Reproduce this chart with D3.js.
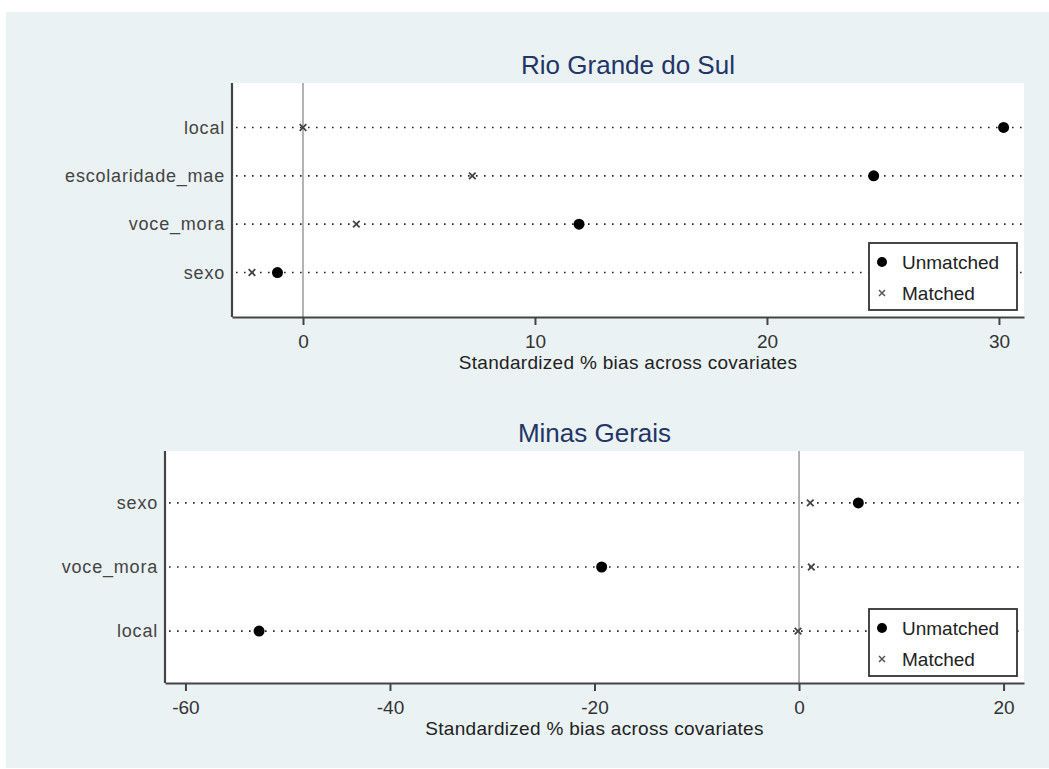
<!DOCTYPE html>
<html>
<head>
<meta charset="utf-8">
<script src="https://cdn.jsdelivr.net/npm/d3@7"></script>
<style>
  body { margin: 0; background: #fff; }
  text { font-family: "Liberation Sans", Arial, sans-serif; }
</style>
</head>
<body>
<div id="chart"></div>
<script>
// Rio Grande do Sul
const rsVars = ['local', 'escolaridade_mae', 'voce_mora', 'sexo'];
const rsUnmatched = [30.2, 24.6, 11.9, -1.1];
const rsMatched = [0.0, 7.3, 2.3, -2.2];
const rsTicks = [0, 10, 20, 30];

// Minas Gerais
const mgVars = ['sexo', 'voce_mora', 'local'];
const mgUnmatched = [5.8, -19.3, -52.8];
const mgMatched = [1.1, 1.2, -0.1];
const mgTicks = [-60, -40, -20, 0, 20];

const legendLabels = ['Unmatched', 'Matched'];

const W = 1049, H = 769;
const svg = d3.select('#chart').append('svg')
    .attr('width', W)
    .attr('height', H);

// outer graph region
svg.append('rect')
    .attr('x', 6).attr('y', 12)
    .attr('width', W - 6).attr('height', H - 13)
    .attr('fill', '#eaf2f3');

const crossPath = (s) => `M${-s},${-s}L${s},${s}M${-s},${s}L${s},${-s}`;

const drawPanel = (opts) => {
    const { title, vars, unmatched, matched, ticks, domain, x0, x1, y0, y1, padding } = opts;

    const x = d3.scaleLinear().domain(domain).range([x0, x1]);
    const y = d3.scalePoint().domain(vars).range([y0, y1]).padding(padding);

    const g = svg.append('g');

    // plot region
    g.append('rect')
        .attr('x', x0).attr('y', y0)
        .attr('width', x1 - x0).attr('height', y1 - y0)
        .attr('fill', '#fff');

    // title
    g.append('text')
        .attr('x', (x0 + x1) / 2)
        .attr('y', y0 - 9)
        .attr('text-anchor', 'middle')
        .attr('font-size', 26)
        .attr('fill', '#233566')
        .text(title);

    // dotted guide lines
    g.append('g').selectAll('line')
        .data(vars)
        .enter().append('line')
        .attr('x1', x0 + 4).attr('x2', x1)
        .attr('y1', d => y(d)).attr('y2', d => y(d))
        .attr('stroke', '#222')
        .attr('stroke-width', 1.6)
        .attr('stroke-dasharray', '1.6,6.4');

    // zero reference line
    g.append('line')
        .attr('x1', x(0)).attr('x2', x(0))
        .attr('y1', y0).attr('y2', y1)
        .attr('stroke', '#999')
        .attr('stroke-width', 1.5);

    // x axis (plain hyphen for negatives, as in the original)
    const xAxis = g.append('g')
        .attr('transform', `translate(0,${y1})`)
        .call(d3.axisBottom(x).tickValues(ticks).tickFormat(d => String(d))
            .tickSize(8).tickSizeOuter(0).tickPadding(10));
    xAxis.select('.domain').attr('stroke', '#444').attr('stroke-width', 2.2);
    xAxis.selectAll('.tick line').attr('stroke', '#444').attr('stroke-width', 2);
    xAxis.selectAll('.tick text')
        .attr('font-size', 19)
        .attr('fill', '#333');

    // y axis
    const yAxis = g.append('g')
        .attr('transform', `translate(${x0},0)`)
        .call(d3.axisLeft(y).tickSize(0).tickSizeOuter(0).tickPadding(7));
    yAxis.select('.domain')
        .attr('d', `M0,${y0}V${y1}`)
        .attr('stroke', '#444').attr('stroke-width', 2.2);
    yAxis.selectAll('.tick text')
        .attr('font-size', 18)
        .attr('letter-spacing', 0.8)
        .attr('fill', '#444');

    // axis title
    g.append('text')
        .attr('x', (x0 + x1) / 2)
        .attr('y', y1 + 52)
        .attr('text-anchor', 'middle')
        .attr('font-size', 19)
        .attr('letter-spacing', 0.3)
        .attr('fill', '#222')
        .text('Standardized % bias across covariates');

    // matched markers
    g.append('g').selectAll('path')
        .data(vars)
        .enter().append('path')
        .attr('transform', (d, i) => `translate(${x(matched[i])},${y(d)})`)
        .attr('d', crossPath(3.3))
        .attr('stroke', '#444')
        .attr('stroke-width', 1.8)
        .attr('fill', 'none');

    // unmatched markers
    g.append('g').selectAll('circle')
        .data(vars)
        .enter().append('circle')
        .attr('cx', (d, i) => x(unmatched[i]))
        .attr('cy', d => y(d))
        .attr('r', 5.5)
        .attr('fill', '#000');

    // legend
    const lw = 148, lh = 67;
    const lx = x1 - 7 - lw, ly = y1 - 7 - lh;
    const lg = g.append('g').attr('transform', `translate(${lx},${ly})`);
    lg.append('rect')
        .attr('width', lw).attr('height', lh)
        .attr('fill', '#fff')
        .attr('stroke', '#333')
        .attr('stroke-width', 1.8);
    const row = d3.scalePoint().domain(legendLabels).range([19, 50]);
    lg.append('circle')
        .attr('cx', 13).attr('cy', row('Unmatched'))
        .attr('r', 5).attr('fill', '#000');
    lg.append('path')
        .attr('transform', `translate(13,${row('Matched')})`)
        .attr('d', crossPath(3))
        .attr('stroke', '#555').attr('stroke-width', 1.5);
    lg.selectAll('text')
        .data(legendLabels)
        .enter().append('text')
        .attr('x', 33)
        .attr('y', d => row(d))
        .attr('dy', '0.35em')
        .attr('font-size', 19)
        .attr('fill', '#222')
        .text(d => d);
};

drawPanel({
    title: 'Rio Grande do Sul',
    vars: rsVars, unmatched: rsUnmatched, matched: rsMatched,
    ticks: rsTicks, domain: [-3.06, 31.08],
    x0: 232, x1: 1024, y0: 83, y1: 317, padding: 0.92
});

drawPanel({
    title: 'Minas Gerais',
    vars: mgVars, unmatched: mgUnmatched, matched: mgMatched,
    ticks: mgTicks, domain: [-62, 22],
    x0: 165, x1: 1024, y0: 451, y1: 683, padding: 0.81
});
</script>
</body>
</html>
